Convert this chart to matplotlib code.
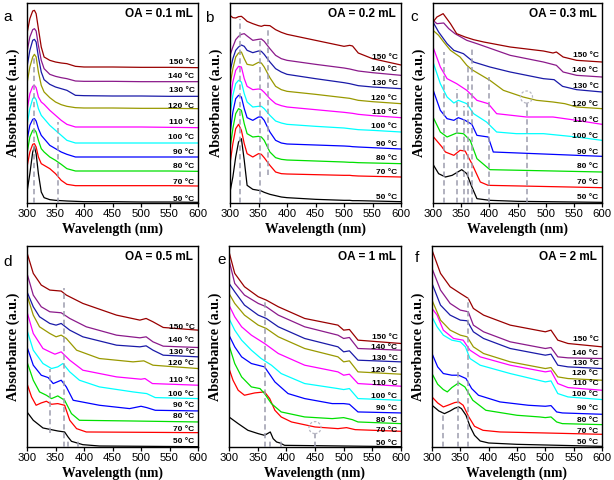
import matplotlib
matplotlib.use('Agg')
import matplotlib.pyplot as plt
from matplotlib.patches import Ellipse

temps = [50, 70, 80, 90, 100, 110, 120, 130, 140, 150]
colors = ['#000000', '#ff0000', '#00e000', '#0000ff', '#00ffff',
          '#ff00ff', '#999900', '#1a1aa8', '#8b1a8b', '#990000']
letters = ['a', 'b', 'c', 'd', 'e', 'f']
oa_text = ['OA = 0.1 mL', 'OA = 0.2 mL', 'OA = 0.3 mL',
           'OA = 0.5 mL', 'OA = 1 mL', 'OA = 2 mL']

# ---- panel a (shared wavelength grid) ----
wl_a = [300, 305, 310, 313, 316, 320, 325, 330, 340, 350, 360, 370, 385, 400, 450, 500, 550, 600]
abs_a = [
    [33, 88, 153, 168, 148, 88, 33, 16, 10, 8, 7, 6, 5, 4, 4, 3, 3, 2],
    [108, 153, 176, 178, 168, 138, 118, 113, 103, 88, 68, 56, 52, 52, 52, 52, 52, 51],
    [148, 198, 218, 220, 213, 188, 163, 153, 138, 128, 116, 103, 96, 96, 96, 96, 96, 95],
    [188, 233, 251, 253, 246, 223, 203, 193, 173, 163, 153, 146, 138, 138, 138, 138, 138, 138],
    [233, 283, 313, 318, 310, 283, 263, 253, 233, 218, 203, 188, 180, 180, 180, 180, 180, 180],
    [278, 328, 350, 353, 346, 318, 303, 296, 278, 263, 248, 236, 228, 228, 228, 228, 227, 226],
    [358, 408, 438, 446, 438, 393, 353, 333, 316, 303, 295, 290, 286, 285, 285, 284, 284, 283],
    [408, 458, 488, 491, 483, 438, 393, 370, 356, 348, 343, 338, 323, 322, 321, 321, 320, 320],
    [453, 498, 520, 523, 516, 473, 428, 403, 386, 380, 376, 373, 366, 365, 365, 364, 364, 364],
    [508, 553, 576, 578, 568, 523, 468, 438, 428, 423, 420, 418, 410, 408, 408, 407, 407, 406],
]
lab_a = [10, 63, 108, 150, 196, 240, 291, 336, 380, 423]
dash_a = [313, 354]
dash_a_lo = [0, 0]
dash_a_hi = [440, 243]

# ---- panel b ----
wl_b = [300, 305, 310, 315, 320, 325, 330, 340, 350, 355, 360, 370, 380, 390, 400, 450, 500, 510, 515, 525, 550, 600]
abs_b = [
    [33, 78, 138, 183, 193, 128, 53, 41, 38, 36, 32, 26, 22, 18, 16, 11, 8, 8, 7, 7, 6, 4],
    [118, 178, 223, 236, 218, 178, 148, 138, 148, 146, 136, 113, 93, 88, 87, 85, 83, 83, 82, 81, 80, 78],
    [163, 223, 268, 283, 278, 238, 208, 198, 200, 198, 188, 153, 136, 131, 129, 126, 123, 122, 122, 121, 120, 118],
    [208, 273, 313, 323, 318, 283, 256, 248, 258, 258, 248, 213, 188, 180, 177, 174, 171, 170, 169, 168, 166, 162],
    [263, 323, 358, 368, 363, 328, 303, 288, 290, 290, 283, 263, 246, 240, 236, 230, 225, 223, 222, 220, 218, 213],
    [303, 363, 398, 410, 408, 373, 350, 340, 342, 340, 332, 313, 298, 292, 288, 280, 272, 270, 269, 266, 262, 256],
    [353, 403, 438, 450, 453, 433, 416, 413, 422, 420, 408, 376, 350, 340, 335, 326, 316, 314, 312, 308, 304, 298],
    [393, 433, 458, 468, 474, 470, 458, 451, 456, 455, 446, 423, 403, 393, 386, 373, 361, 358, 356, 352, 348, 343],
    [443, 468, 490, 500, 506, 508, 501, 488, 491, 492, 485, 463, 443, 433, 428, 416, 405, 402, 400, 396, 391, 383],
    [563, 556, 555, 559, 560, 553, 545, 538, 532, 530, 533, 532, 520, 512, 506, 488, 470, 473, 471, 450, 433, 414],
]
lab_b = [16, 90, 133, 175, 228, 270, 315, 358, 400, 436]
dash_b = [318, 353, 367]
dash_b_lo = [0, 0, 83]
dash_b_hi = [553, 488, 523]

# ---- panel c (own grid per curve) ----
wl_c = [
    [300, 310, 322, 334, 351, 360, 369, 378, 401, 450, 500, 600],
    [300, 316, 322, 337, 348, 357, 369, 384, 398, 600],
    [300, 313, 325, 342, 354, 366, 378, 401, 600],
    [300, 313, 325, 337, 345, 357, 369, 378, 398, 407, 600],
    [300, 313, 325, 337, 345, 360, 372, 395, 413, 448, 496, 555, 600],
    [300, 313, 325, 342, 360, 378, 398, 413, 466, 513, 555, 600],
    [300, 310, 319, 331, 348, 360, 369, 381, 401, 425, 460, 484, 513, 534, 555, 600],
    [300, 310, 325, 337, 354, 372, 401, 437, 496, 515, 530, 555, 600],
    [300, 307, 319, 328, 339, 360, 378, 437, 496, 519, 531, 555, 600],
    [300, 307, 318, 331, 342, 357, 372, 390, 437, 496, 513, 519, 531, 555, 600],
]
abs_c = [
    [116, 88, 78, 83, 100, 88, 48, 13, 8, 5, 4, 2],
    [200, 168, 153, 143, 158, 156, 118, 63, 53, 46],
    [258, 213, 198, 210, 208, 188, 133, 100, 93],
    [340, 278, 253, 248, 256, 248, 236, 203, 198, 153, 140],
    [423, 358, 318, 300, 308, 298, 268, 243, 213, 208, 208, 198, 188],
    [468, 408, 373, 358, 338, 308, 298, 268, 258, 258, 248, 236],
    [518, 503, 483, 458, 438, 413, 400, 388, 368, 338, 318, 308, 303, 298, 288, 283],
    [543, 513, 478, 458, 448, 423, 408, 393, 373, 370, 350, 340, 333],
    [548, 538, 540, 523, 508, 488, 478, 443, 423, 413, 393, 383, 378],
    [543, 558, 568, 538, 508, 498, 490, 483, 468, 456, 450, 453, 438, 428, 423],
]
lab_c = [16, 63, 108, 153, 200, 248, 296, 350, 396, 443]
dash_c = [319, 343, 355, 362, 369, 400, 466]
dash_c_lo = [0, 0, 0, 0, 0, 0, 0]
dash_c_hi = [453, 343, 290, 408, 463, 378, 300]
circle_c = (466, 318)

# ---- panel d ----
wl_d = [
    [300, 311, 328, 354, 366, 372, 378, 388, 398, 427, 600],
    [300, 308, 316, 325, 334, 343, 354, 366, 375, 387, 404, 600],
    [300, 311, 322, 334, 343, 354, 366, 378, 392, 480, 600],
    [300, 311, 325, 337, 346, 360, 369, 381, 427, 480, 500, 510, 525, 600],
    [300, 311, 328, 343, 354, 363, 375, 392, 427, 486, 500, 510, 525, 600],
    [300, 311, 328, 340, 349, 360, 375, 398, 457, 500, 507, 520, 600],
    [300, 311, 322, 340, 351, 360, 369, 387, 427, 486, 505, 521, 600],
    [300, 311, 322, 340, 351, 360, 375, 398, 457, 498, 509, 521, 539, 600],
    [300, 311, 325, 340, 360, 375, 404, 457, 498, 509, 521, 539, 600],
    [300, 311, 325, 340, 360, 369, 398, 457, 498, 509, 521, 539, 600],
]
abs_d = [
    [105, 80, 57, 48, 45, 30, 17, 12, 7, 3, 1],
    [190, 150, 125, 132, 137, 128, 130, 125, 80, 55, 45, 43],
    [255, 200, 165, 155, 145, 153, 140, 100, 80, 78, 75],
    [300, 245, 215, 208, 190, 200, 180, 140, 125, 115, 122, 118, 110, 108],
    [350, 290, 250, 235, 240, 250, 225, 200, 180, 165, 162, 160, 148, 145],
    [405, 340, 295, 285, 278, 285, 260, 230, 210, 203, 205, 190, 185],
    [455, 395, 360, 340, 330, 335, 325, 290, 265, 255, 258, 245, 235],
    [465, 420, 390, 370, 365, 370, 350, 330, 305, 300, 303, 290, 275, 270],
    [520, 455, 420, 405, 402, 385, 360, 335, 327, 330, 315, 302, 298],
    [582, 520, 485, 470, 467, 455, 430, 395, 380, 385, 375, 358, 350],
]
lab_d = [15, 53, 90, 125, 158, 198, 250, 283, 318, 358]
dash_d = [340, 365, 372, 389]
dash_d_lo = [42, 0, 0, 0]
dash_d_hi = [235, 475, 25, 25]

# ---- panel e ----
wl_e = [
    [300, 316, 333, 351, 362, 372, 377, 383, 389, 397, 600],
    [300, 307, 316, 327, 345, 362, 371, 380, 391, 409, 450, 490, 505, 520, 600],
    [300, 310, 322, 339, 354, 362, 374, 391, 432, 480, 500, 515, 525, 600],
    [300, 310, 322, 339, 362, 380, 403, 432, 480, 500, 510, 525, 600],
    [300, 310, 322, 339, 356, 374, 391, 432, 490, 500, 510, 525, 600],
    [300, 310, 322, 339, 362, 386, 432, 490, 500, 510, 525, 600],
    [300, 310, 327, 351, 365, 386, 432, 490, 500, 510, 525, 600],
    [300, 310, 327, 351, 365, 386, 432, 490, 500, 510, 525, 600],
    [300, 310, 327, 351, 365, 386, 432, 490, 500, 510, 525, 600],
    [300, 310, 327, 351, 365, 386, 432, 490, 500, 510, 525, 600],
]
abs_e = [
    [90, 70, 50, 40, 35, 45, 25, 15, 12, 5, 1],
    [235, 200, 170, 155, 162, 165, 145, 110, 90, 75, 60, 55, 58, 52, 47],
    [305, 250, 210, 180, 175, 160, 130, 105, 90, 85, 88, 82, 75, 70],
    [335, 300, 270, 250, 240, 195, 160, 145, 130, 130, 128, 105, 102],
    [385, 350, 320, 290, 265, 245, 220, 190, 175, 172, 175, 145, 140],
    [425, 390, 360, 335, 310, 280, 245, 225, 215, 218, 190, 182],
    [460, 430, 395, 365, 355, 330, 295, 270, 255, 258, 225, 218],
    [490, 465, 425, 395, 385, 360, 325, 300, 285, 288, 260, 255],
    [560, 490, 455, 430, 420, 395, 360, 335, 325, 328, 295, 290],
    [585, 520, 480, 450, 440, 420, 385, 365, 350, 352, 320, 310],
]
lab_e = [10, 50, 80, 115, 152, 190, 228, 265, 297, 327]
dash_e = [363, 372, 390, 450]
dash_e_lo = [0, 0, 0, 0]
dash_e_hi = [440, 25, 25, 50]
circle_e = (450, 58)

# ---- panel f ----
wl_f = [
    [300, 305, 312, 322, 332, 340, 347, 352, 360, 367, 375, 385, 400, 450, 500, 550, 600],
    [300, 310, 320, 328, 340, 347, 355, 365, 375, 390, 420, 500, 550, 600],
    [300, 310, 320, 327, 335, 347, 358, 372, 395, 450, 490, 500, 510, 520, 530, 600],
    [300, 310, 320, 335, 347, 360, 370, 382, 420, 470, 500, 510, 520, 530, 600],
    [300, 309, 320, 335, 350, 359, 367, 385, 438, 500, 510, 522, 540, 600],
    [300, 309, 320, 338, 355, 367, 385, 438, 500, 510, 522, 540, 600],
    [300, 315, 332, 350, 362, 373, 391, 438, 500, 510, 522, 540, 600],
    [300, 315, 332, 350, 362, 373, 391, 438, 500, 510, 522, 540, 600],
    [300, 315, 332, 350, 364, 373, 391, 438, 500, 510, 522, 540, 600],
    [300, 315, 332, 350, 364, 373, 391, 438, 500, 510, 522, 540, 600],
]
abs_f = [
    [125, 118, 108, 100, 108, 116, 120, 115, 95, 62, 35, 18, 12, 8, 6, 4, 2],
    [150, 132, 120, 125, 133, 135, 125, 90, 62, 50, 45, 42, 40, 38],
    [220, 188, 172, 165, 178, 192, 180, 140, 110, 95, 90, 88, 90, 75, 70, 67],
    [280, 240, 220, 215, 215, 205, 175, 155, 135, 125, 122, 124, 105, 102, 98],
    [390, 360, 335, 320, 315, 300, 265, 245, 220, 195, 198, 160, 150, 142],
    [415, 395, 350, 325, 320, 290, 270, 245, 225, 228, 190, 178, 170],
    [440, 380, 350, 335, 330, 300, 280, 255, 235, 238, 210, 205, 200],
    [490, 425, 395, 380, 378, 345, 325, 295, 275, 278, 245, 240, 235],
    [535, 470, 430, 410, 405, 365, 345, 315, 295, 298, 270, 267, 265],
    [590, 520, 480, 460, 445, 415, 395, 365, 345, 350, 320, 310, 300],
]
lab_f = [12, 45, 80, 115, 158, 190, 220, 250, 280, 322]
dash_f = [320, 346, 363]
dash_f_lo = [0, 0, 0]
dash_f_hi = [105, 225, 445]

panels = [
    (wl_a, abs_a, lab_a, dash_a, dash_a_lo, dash_a_hi, None, 600),
    (wl_b, abs_b, lab_b, dash_b, dash_b_lo, dash_b_hi, None, 600),
    (wl_c, abs_c, lab_c, dash_c, dash_c_lo, dash_c_hi, circle_c, 600),
    (wl_d, abs_d, lab_d, dash_d, dash_d_lo, dash_d_hi, None, 602),
    (wl_e, abs_e, lab_e, dash_e, dash_e_lo, dash_e_hi, circle_e, 602),
    (wl_f, abs_f, lab_f, dash_f, dash_f_lo, dash_f_hi, None, 602),
]

W, H = 614, 480
boxes = [(27, 3, 198, 203), (230, 3, 401, 203), (433, 3, 602, 203),
         (27, 246, 198, 447), (229, 246, 401, 447), (432, 246, 602, 447)]
letter_pos = [(8, 17), (209, 18), (414, 17), (8, 262), (222, 260), (417, 258)]

sans = 'Liberation Sans'
serif = 'Liberation Serif'
dash_col = '#9c9cae'

fig = plt.figure(figsize=(W / 100, H / 100), dpi=100)

for k, (wl, spectra, labs, dx, dlo, dhi, circ, ytop) in enumerate(panels):
    l, t, r, b = boxes[k]
    ax = fig.add_axes([l / W, 1 - b / H, (r - l) / W, (b - t) / H])
    for i, y in enumerate(spectra):
        x = wl[i] if isinstance(wl[0], list) else wl
        ax.plot(x, y, color=colors[i], lw=0.9, zorder=2)
        ax.text(594, labs[i], f'{temps[i]} °C', ha='right', va='center',
                fontsize=6, fontweight='bold', family=sans, zorder=4)
    ax.vlines(dx, dlo, dhi, colors=dash_col, linestyles=(0, (3.5, 2.2)),
              lw=1.1, zorder=3)
    if circ is not None:
        cw = 12 / (r - l) * 300
        ch = 12 / (b - t) * ytop
        ax.add_patch(Ellipse(circ, cw, ch, fill=False, ec='#b8b8c4',
                             lw=0.9, ls=(0, (2, 1.5)), zorder=3))
    ax.set_xlim(300, 600)
    ax.set_ylim(0, ytop)
    ax.set_xticks(range(300, 601, 50))
    ax.set_yticks([])
    ax.tick_params(axis='x', direction='out', length=3, width=0.9,
                   labelsize=8.2, pad=1.5)
    for lab in ax.get_xticklabels():
        lab.set_family(sans)
    for s in ax.spines.values():
        s.set_linewidth(1.0)
    ax.set_xlabel('Wavelength (nm)', family=serif, fontweight='bold', fontsize=9.8)
    ax.xaxis.set_label_coords(0.5, -0.098)
    ax.set_ylabel('Absorbance (a.u.)', family=serif, fontweight='bold', fontsize=10.3)
    ax.yaxis.set_label_coords(-0.04, 0.5)
    ax.text(0.97, 0.945, oa_text[k], transform=ax.transAxes, ha='right',
            va='center', fontsize=8.5, fontweight='bold', family=sans)
    lx, ly = letter_pos[k]
    fig.text(lx / W, 1 - ly / H, letters[k], ha='center', va='center',
             fontsize=11, family=sans)

fig.savefig('out.png', dpi=100)
